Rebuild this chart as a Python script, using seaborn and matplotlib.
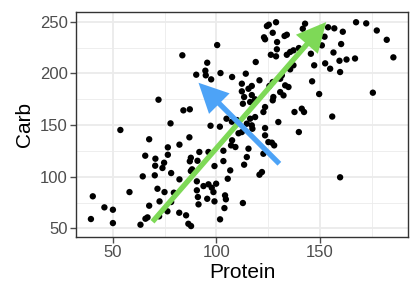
import matplotlib
matplotlib.use("Agg")
import matplotlib.pyplot as plt
from matplotlib.patches import FancyArrowPatch
import seaborn as sns
import pandas as pd

protein = [72.1, 53.7, 67.6, 65.7, 70.6, 70.5, 64.5, 70.3, 71.6, 58.1, 40.4, 67.6, 46.0, 50.1, 72.6,
           39.5, 50.1, 65.8, 63.4, 66.8,
           100.4, 83.6, 95.6, 94.7, 94.9, 97.5, 90.3, 102.0, 107.6, 84.1, 87.2, 77.9, 97.2, 101.7,
           104.9, 107.5, 109.9,
           87.0, 82.2, 76.6, 76.6, 87.7, 87.2, 90.9, 91.8, 96.2, 103.4, 107.1, 107.6, 109.2, 103.4,
           99.1, 74.8, 74.0, 78.2, 88.3, 87.7, 82.2, 106.7, 105.5, 90.6, 93.8, 96.2, 99.9, 97.8,
           98.6, 75.0, 79.5, 78.2, 90.6, 91.1, 95.6, 99.1, 91.4, 104.2, 104.6, 103.9, 76.4, 82.1,
           85.4, 72.4, 86.5, 87.8, 101.8, 110.7,
           128.8, 125.3, 124.4, 141.7, 142.8, 127.2, 123.0, 123.5, 134.0, 132.9, 129.3, 139.8,
           137.2, 135.6, 134.0, 129.2, 126.3, 128.8, 145.6, 119.0, 114.2, 137.2, 135.6, 147.2,
           152.5, 120.8, 112.3, 115.5, 112.3, 117.1, 127.2, 125.6, 131.6, 130.8, 133.2, 134.8,
           146.2, 130.8, 132.4, 127.5, 127.2, 113.4, 112.8, 116.3, 118.7, 123.5, 122.7, 137.7,
           141.2, 142.3, 149.6, 116.3, 118.7, 114.7, 117.1, 129.9, 112.3, 117.4, 123.5, 123.5,
           125.1, 126.8, 127.9, 122.7, 115.5, 114.7, 113.4, 139.8, 122.0, 120.8, 112.8, 159.7,
           117.1,
           150.9, 152.2, 153.9, 156.9, 161.0, 167.4, 172.3, 177.4, 182.2, 185.4, 160.2, 156.5,
           159.4, 162.8, 166.9, 154.9, 159.7, 175.5, 155.9]

carb = [174.5, 145.2, 136.2, 120.3, 117.4, 110.6, 100.3, 101.3, 88.3, 85.1, 81.0, 71.9, 70.3, 68.0, 76.1,
        59.0, 55.1, 59.3, 53.5, 60.6,
        227.4, 217.5, 210.3, 202.6, 198.1, 194.2, 198.7, 200.3, 196.5, 164.2, 165.2, 151.6, 149.3, 148.4,
        156.1, 153.2, 154.8,
        138.1, 131.0, 128.4, 121.2, 118.3, 114.9, 115.4, 123.9, 123.9, 125.1, 130.3, 135.2, 128.7, 115.1,
        110.3, 113.5, 108.4, 103.5, 107.1, 105.5, 97.4, 106.1, 98.0, 95.5, 90.9, 92.6, 93.2, 89.3,
        85.1, 85.1, 84.5, 75.5, 86.8, 80.3, 78.6, 76.1, 73.2, 81.9, 78.1, 69.6, 66.5, 65.1,
        62.6, 61.6, 54.4, 52.2, 58.7, 142.0,
        249.5, 247.1, 245.8, 243.2, 248.1, 239.3, 234.9, 233.0, 237.4, 236.2, 230.3, 224.5,
        222.3, 220.7, 218.0, 223.3, 218.0, 216.5, 219.0, 211.0, 199.7, 207.8, 203.9, 207.8,
        209.7, 193.3, 190.0, 185.1, 182.6, 187.8, 191.6, 187.8, 198.1, 194.8, 188.4, 186.8,
        192.3, 181.9, 178.7, 177.1, 173.9, 177.1, 170.6, 172.3, 174.9, 167.4, 162.6, 162.6,
        165.8, 162.6, 180.0, 156.1, 157.7, 151.3, 149.7, 152.9, 143.2, 146.4, 147.1, 140.0,
        133.5, 132.9, 130.3, 122.2, 127.1, 119.0, 111.6, 143.2, 104.5, 101.9, 74.5, 99.4,
        179.0,
        227.1, 235.5, 244.6, 243.6, 240.3, 249.5, 248.4, 241.5, 232.5, 215.5, 228.4, 220.2,
        212.2, 213.4, 214.4, 204.5, 201.3, 181.3, 158.2]

# principal component arrows (start -> end, data units)
arrow_x0 = [69.2, 130.4]
arrow_y0 = [56.4, 112.5]
arrow_x1 = [153.0, 91.4]
arrow_y1 = [249.7, 190.9]
arrow_colors = ["#7ED957", "#4DA3F7"]

x_ticks = [50, 100, 150]
y_ticks = [50, 100, 150, 200, 250]

df = pd.DataFrame({"Protein": protein, "Carb": carb})

sns.set_theme(style="white")
plt.rcParams["font.family"] = ["Liberation Sans", "DejaVu Sans"]

fig = plt.figure(figsize=(4.2, 3.0), dpi=100)
ax = fig.add_axes([76 / 420, 1 - 236.7 / 300, (408.3 - 76) / 420, (236.7 - 11.7) / 300])

# grid (theme_bw like)
for v in [75, 125, 175]:
    ax.axvline(v, color="#EBEBEB", lw=0.6, zorder=0)
for v in [75, 125, 175, 225]:
    ax.axhline(v, color="#EBEBEB", lw=0.6, zorder=0)
for v in x_ticks:
    ax.axvline(v, color="#EBEBEB", lw=1.3, zorder=0)
for v in y_ticks:
    ax.axhline(v, color="#EBEBEB", lw=1.3, zorder=0)

sns.scatterplot(data=df, x="Protein", y="Carb", ax=ax, color="black", s=21,
                edgecolor="none", linewidth=0, zorder=2)

for x0, y0, x1, y1, c in zip(arrow_x0, arrow_y0, arrow_x1, arrow_y1, arrow_colors):
    ax.add_patch(FancyArrowPatch((x0, y0), (x1, y1),
                                 arrowstyle="-|>,head_length=0.75,head_width=0.37",
                                 mutation_scale=20, lw=3.8, color=c,
                                 shrinkA=0, shrinkB=0, zorder=3,
                                 capstyle="butt", joinstyle="miter"))

ax.set_xlim(32.3, 192.6)
ax.set_ylim(41.9, 259.7)
ax.set_xticks(x_ticks)
ax.set_yticks(y_ticks)
ax.tick_params(axis="both", labelsize=12, colors="#4D4D4D", length=4, width=1,
               direction="out", pad=2, bottom=True, left=True)
for lab in ax.get_xticklabels() + ax.get_yticklabels():
    lab.set_color("#4D4D4D")
for sp in ax.spines.values():
    sp.set_color("#333333")
    sp.set_linewidth(1.0)
ax.set_xlabel("Protein", fontsize=15, color="black", labelpad=2)
ax.set_ylabel("Carb", fontsize=15, color="black", labelpad=4)
ax.grid(False)

fig.savefig("out.png", dpi=100)
